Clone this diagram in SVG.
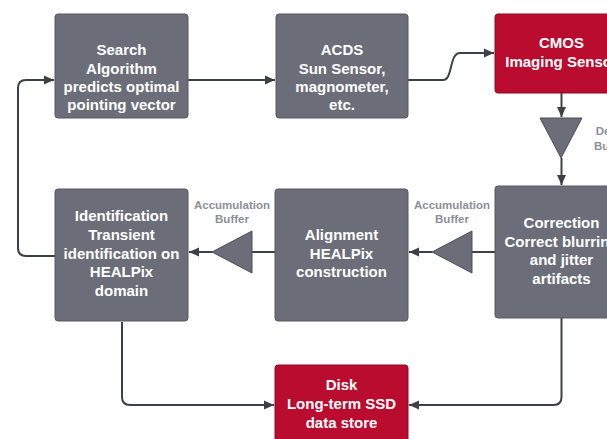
<svg xmlns="http://www.w3.org/2000/svg" width="607" height="439" viewBox="0 0 607 439">
<style>
.box{fill:#6b6e78;stroke:#565962;stroke-width:1}
.red{fill:#b90c2e;stroke:#8e0a24;stroke-width:1}
.t{font-family:"Liberation Sans",Arial,sans-serif;font-weight:bold;font-size:15px;fill:#ffffff;text-anchor:middle}
.lbl{font-family:"Liberation Sans",Arial,sans-serif;font-weight:bold;font-size:11.5px;fill:#8c8f96;text-anchor:middle}
.c{fill:none;stroke:#3b4148;stroke-width:2}
.tri{fill:#6b6e78;stroke:#4a4e56;stroke-width:1}
</style>
<defs>
<marker id="arr" markerUnits="userSpaceOnUse" markerWidth="10" markerHeight="10" refX="10" refY="5" orient="auto">
<path d="M0,0.5 L10,5 L0,9.5 z" fill="#3b4148"/>
</marker>
</defs>
<g id="connectors">
<path class="c" d="M188,80 H275" marker-end="url(#arr)"/>
<path class="c" d="M408,80 H443 C453,80 449,53 460,53 H494" marker-end="url(#arr)"/>
<path class="c" d="M561.5,93 V117" marker-end="url(#arr)"/>
<path class="c" d="M561.5,158 V185" marker-end="url(#arr)"/>
<path class="c" d="M495,252 H472"/>
<path class="c" d="M432,252 H409" marker-end="url(#arr)"/>
<path class="c" d="M275,252 H252"/>
<path class="c" d="M212,252 H189" marker-end="url(#arr)"/>
<path class="c" d="M55,256 H26 Q18,256 18,248 V88 Q18,80 26,80 H54" marker-end="url(#arr)"/>
<path class="c" d="M122,322 V397 Q122,405 130,405 H274" marker-end="url(#arr)"/>
<path class="c" d="M561.5,318 V397 Q561.5,405 553.5,405 H409" marker-end="url(#arr)"/>
</g>
<g id="search">
<rect class="box" x="55" y="14" width="133" height="104" rx="3"/>
<text class="t" x="121.5" y="55">Search</text>
<text class="t" x="121.5" y="73.5">Algorithm</text>
<text class="t" x="121.5" y="92">predicts optimal</text>
<text class="t" x="121.5" y="110">pointing vector</text>
</g>
<g id="acds">
<rect class="box" x="276" y="14" width="132" height="104" rx="3"/>
<text class="t" x="342" y="55">ACDS</text>
<text class="t" x="342" y="73.5">Sun Sensor,</text>
<text class="t" x="342" y="92">magnometer,</text>
<text class="t" x="342" y="110">etc.</text>
</g>
<g id="cmos">
<rect class="red" x="495" y="14" width="133" height="79" rx="3"/>
<text class="t" x="561.5" y="48">CMOS</text>
<text class="t" x="561.5" y="67">Imaging Sensor</text>
</g>
<g id="delay-buffer">
<polygon class="tri" points="540,118 582,118 561,158"/>
<text class="lbl" x="611" y="135">Delay</text>
<text class="lbl" x="611" y="150">Buffer</text>
</g>
<g id="correction">
<rect class="box" x="495" y="186" width="133" height="132" rx="3"/>
<text class="t" x="561.5" y="228">Correction</text>
<text class="t" x="561.5" y="246.5">Correct blurring</text>
<text class="t" x="561.5" y="265">and jitter</text>
<text class="t" x="561.5" y="283.5">artifacts</text>
</g>
<g id="buffer2">
<polygon class="tri" points="472,231 472,273 432,252"/>
<text class="lbl" x="452" y="209">Accumulation</text>
<text class="lbl" x="452" y="223">Buffer</text>
</g>
<g id="alignment">
<rect class="box" x="275" y="189" width="133" height="132" rx="3"/>
<text class="t" x="341.5" y="240">Alignment</text>
<text class="t" x="341.5" y="258.5">HEALPix</text>
<text class="t" x="341.5" y="277">construction</text>
</g>
<g id="buffer1">
<polygon class="tri" points="252,231 252,273 212,252"/>
<text class="lbl" x="232" y="209">Accumulation</text>
<text class="lbl" x="232" y="223">Buffer</text>
</g>
<g id="identification">
<rect class="box" x="55" y="189" width="133" height="132" rx="3"/>
<text class="t" x="121.5" y="221">Identification</text>
<text class="t" x="121.5" y="240">Transient</text>
<text class="t" x="121.5" y="258.5">identification on</text>
<text class="t" x="121.5" y="277">HEALPix</text>
<text class="t" x="121.5" y="295.5">domain</text>
</g>
<g id="disk">
<rect class="red" x="275" y="365" width="133" height="90" rx="3"/>
<text class="t" x="341.5" y="390">Disk</text>
<text class="t" x="341.5" y="409">Long-term SSD</text>
<text class="t" x="341.5" y="427.5">data store</text>
</g>
</svg>
